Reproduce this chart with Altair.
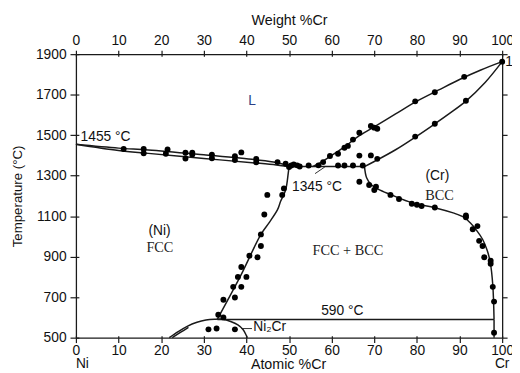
import altair as alt
import pandas as pd

# ---------------- phase boundary lines (Atomic %Cr, Temperature °C) ----------------
LIQ_L_X = [0, 10, 17, 30, 42, 47, 50]
LIQ_L_T = [1455, 1436, 1427, 1403, 1379, 1365, 1347]
SOL_L_X = [0, 10, 17, 30, 42, 47, 50]
SOL_L_T = [1455, 1424, 1410, 1385, 1363, 1353, 1345]
EUT_X = [50, 67.7]
EUT_T = [1345, 1345]
LIQ_R_X = [55.5, 57.7, 60, 63, 66, 69.5, 75, 80, 85, 90, 95, 100]
LIQ_R_T = [1345, 1368, 1400, 1442, 1490, 1535, 1605, 1668, 1722, 1775, 1822, 1863]
SOL_R_X = [67.7, 70, 75, 79.6, 83.8, 87.5, 91.5, 96, 100]
SOL_R_T = [1345, 1370, 1428, 1490, 1550, 1605, 1668, 1760, 1863]
FCC_X = [50, 49.8, 49.2, 48, 47.3, 45.3, 43.4, 38.5, 33.2]
FCC_T = [1345, 1310, 1229, 1172, 1132, 1067, 1010, 800, 592]
BCC_X = [67.7, 68.2, 69.3, 71, 73.8, 79, 84.2, 88.5, 91, 92.5, 94, 95.4, 96.5, 97.2, 97.8, 98.1]
BCC_T = [1345, 1290, 1255, 1232, 1207, 1165, 1142, 1116, 1095, 1067, 1030, 986, 930, 873, 760, 590]
VERT_X = [98.1, 98.1]
VERT_T = [590, 500]
ORD_X = [33.2, 98.1]
ORD_T = [590, 590]
DOME_X = [21.9, 24, 26.1, 28.4, 30.5, 32.5, 34.5, 36.3, 38, 39.2, 40, 40.2]
DOME_T = [500, 530, 556, 576, 587, 591, 591, 580, 563, 540, 510, 500]
DOME_IN_X = [22.6, 24.6, 26.4]
DOME_IN_T = [500, 527, 551]
LEAD1_X = [56.1, 58.4]
LEAD1_T = [1310, 1343]
LEAD2_X = [38.8, 41.3]
LEAD2_T = [545, 545]

# ---------------- experimental points ----------------
PTS_X = [11.2, 15.9, 15.9, 21.5, 21.1, 25.7, 25.7, 27.3, 27.3, 31.9, 31.9, 37.3, 37.3, 38.8,
         42.3, 42.3, 47.3, 49.2, 50, 50.5, 51.1, 51.9, 52.5, 54.6, 56.9, 58, 59.6, 61.5, 63,
         63.8, 65, 66.5, 69.2, 70, 70.7, 61.5, 63, 65, 67.3, 66.5, 69.2, 70.7,
         79.6, 84.2, 91.1, 79.6, 84.2, 91.5, 100,
         48.8, 48.4, 44.9, 44.2, 43.4, 43.4, 42.6, 40.7, 38.8, 40, 38, 38.8, 36.9, 37.3, 34.6,
         33.4, 34.6, 31.1, 33, 37.3,
         66.5, 68.8, 70.4, 70, 73.8, 75.8, 78.8, 80, 81.1, 84.2, 91.5, 91.5, 94.2, 93.1, 94.6,
         95.4, 95.8, 97.3, 97.3, 97.8, 98.1, 98.1]
PTS_T = [1432, 1432, 1411, 1429, 1408, 1413, 1385, 1414, 1405, 1404, 1386, 1396, 1377, 1415,
         1383, 1366, 1367, 1359, 1343, 1350, 1355, 1351, 1345, 1350, 1351, 1367, 1397, 1408, 1438,
         1447, 1478, 1512, 1545, 1537, 1532, 1350, 1350, 1350, 1350, 1399, 1400, 1383,
         1667, 1712, 1788, 1493, 1556, 1670, 1863,
         1237, 1205, 1205, 1108, 1010, 953, 897, 905, 849, 800, 800, 751, 751, 698, 687,
         613, 600, 541, 545, 541,
         1270, 1254, 1245, 1229, 1205, 1185, 1161, 1156, 1150, 1143, 1103, 1095, 1051, 1035, 978,
         953, 897, 880, 865, 751, 678, 524]

# ---------------- annotations ----------------
LBL_LEFT = ["1455 °C", "1345 °C", "Ni₂Cr", "1863 °C", "Ni"]
LBL_LEFT_X = [1.1, 50.7, 41.6, 100.7, 0]
LBL_LEFT_T = [1492, 1245, 553, 1861, 368]
LBL_MID = ["L", "(Ni)", "(Cr)", "590 °C", "Cr"]
LBL_MID_X = [41.3, 19.6, 84.8, 62.5, 100]
LBL_MID_T = [1667, 1026, 1297, 633, 368]
LBL_SERIF = ["FCC", "BCC", "FCC + BCC"]
LBL_SERIF_X = [19.7, 85.3, 63.8]
LBL_SERIF_T = [942, 1197, 929]

TICKS_X = list(range(0, 101, 10))
TICKS_T = list(range(500, 1901, 200))

SANS = "Liberation Sans"
SERIF = "Liberation Serif"
INK = "#1a1a1a"


def seg(name, xs, ts):
    return pd.DataFrame({"x": xs, "T": ts, "seg": name, "i": list(range(len(xs)))})


curves = pd.concat([
    seg("liqL", LIQ_L_X, LIQ_L_T), seg("solL", SOL_L_X, SOL_L_T),
    seg("liqR", LIQ_R_X, LIQ_R_T), seg("solR", SOL_R_X, SOL_R_T),
    seg("fcc", FCC_X, FCC_T), seg("bcc", BCC_X, BCC_T),
    seg("dome", DOME_X, DOME_T), seg("domein", DOME_IN_X, DOME_IN_T),
])
straights = pd.concat([
    seg("eut", EUT_X, EUT_T), seg("vert", VERT_X, VERT_T), seg("ord", ORD_X, ORD_T),
])
leaders = pd.concat([seg("l1", LEAD1_X, LEAD1_T), seg("l2", LEAD2_X, LEAD2_T)])
pts = pd.DataFrame({"x": PTS_X, "T": PTS_T})
tl = pd.DataFrame({"x": LBL_LEFT_X, "T": LBL_LEFT_T, "t": LBL_LEFT})
tm = pd.DataFrame({"x": LBL_MID_X, "T": LBL_MID_T, "t": LBL_MID})
ts = pd.DataFrame({"x": LBL_SERIF_X, "T": LBL_SERIF_T, "t": LBL_SERIF})
dummy = pd.DataFrame({"x": [0, 100], "T": [500, 1900]})

XS = alt.Scale(domain=[0, 100], nice=False, zero=False)
YS = alt.Scale(domain=[500, 1900], nice=False, zero=False)

common_axis = dict(grid=False, domainColor=INK, tickColor=INK, domainWidth=1.3, tickWidth=1.2,
                   labelFont=SANS, labelColor="#111", titleFont=SANS, titleColor="#111",
                   titleFontWeight="normal", labelFlush=False, labelOverlap=False, format="d")

x_bottom = alt.Axis(orient="bottom", values=TICKS_X, title="Atomic %Cr", tickSize=5,
                    labelFontSize=14, labelPadding=1, titleFontSize=14.5,
                    titleX=215.5, titleY=27, titleAlign="center", titleBaseline="middle",
                    **common_axis)
y_left = alt.Axis(orient="left", values=TICKS_T, title="Temperature (°C)", tickSize=6,
                  labelFontSize=14, labelPadding=4, titleFontSize=13.5,
                  titleX=-59, titleY=144, titleAngle=270, titleAlign="center",
                  titleBaseline="middle", **common_axis)

XE = alt.X("x:Q", scale=XS, axis=x_bottom)
YE = alt.Y("T:Q", scale=YS, axis=y_left)

line_curves = alt.Chart(curves).mark_line(color=INK, strokeWidth=1.5, interpolate="catmull-rom").encode(
    x=XE, y=YE, detail="seg:N", order="i:Q")
line_straight = alt.Chart(straights).mark_line(color=INK, strokeWidth=1.5).encode(
    x=XE, y=YE, detail="seg:N", order="i:Q")
line_lead = alt.Chart(leaders).mark_line(color=INK, strokeWidth=0.9).encode(
    x=XE, y=YE, detail="seg:N", order="i:Q")
points = alt.Chart(pts).mark_circle(color="#000", size=36, opacity=1).encode(x=XE, y=YE)
txt_left = alt.Chart(tl).mark_text(font=SANS, fontSize=14, align="left", baseline="middle",
                                   color="#111").encode(x=XE, y=YE, text="t:N")
txt_mid = alt.Chart(tm).mark_text(font=SANS, fontSize=14, align="center", baseline="middle",
                                  color="#111").encode(
    x=XE, y=YE, text="t:N",
    color=alt.condition(alt.datum.t == "L", alt.value("#2d3f86"), alt.value("#111")))
txt_serif = alt.Chart(ts).mark_text(font=SERIF, fontSize=14.5, align="center", baseline="middle",
                                    color="#222").encode(x=XE, y=YE, text="t:N")

main = alt.layer(line_curves, line_straight, line_lead, points, txt_left, txt_mid, txt_serif)

# second frame: top (weight %) axis and right axis
x_top = alt.Axis(orient="top", values=TICKS_X, title="Weight %Cr", tickSize=4,
                 labelFontSize=14, labelPadding=3, titleFontSize=14.5,
                 titleX=216.5, titleY=-34, titleAlign="center", titleBaseline="middle",
                 **common_axis)
y_right = alt.Axis(orient="right", values=TICKS_T, title="", labels=False, tickSize=5,
                   **common_axis)
frame2 = alt.Chart(dummy).mark_point(opacity=0).encode(
    x=alt.X("x:Q", scale=XS, axis=x_top), y=alt.Y("T:Q", scale=YS, axis=y_right))

# inner halves of the crossing ticks
inner_common = dict(grid=False, domain=False, labels=False, title="", tickColor=INK, tickWidth=1.2)
x_bottom_in = alt.Axis(orient="bottom", values=TICKS_X, tickSize=2, offset=-2, **inner_common)
y_left_in = alt.Axis(orient="left", values=TICKS_T, tickSize=3, offset=-3, **inner_common)
frame3 = alt.Chart(dummy).mark_point(opacity=0).encode(
    x=alt.X("x:Q", scale=XS, axis=x_bottom_in), y=alt.Y("T:Q", scale=YS, axis=y_left_in))
x_top_in = alt.Axis(orient="top", values=TICKS_X, tickSize=2, offset=-2, **inner_common)
frame4 = alt.Chart(dummy).mark_point(opacity=0).encode(
    x=alt.X("x:Q", scale=XS, axis=x_top_in), y=alt.Y("T:Q", scale=YS, axis=None))

chart = alt.layer(main, frame2, frame3, frame4).resolve_scale(
    x="independent", y="independent"
).properties(
    width=433, height=288,
    autosize=alt.AutoSizeParams(type="none"),
    padding={"left": 69, "top": 44, "right": 10, "bottom": 33},
    background="white",
).configure_view(stroke=None)

chart.save("out.html", embed_options={"renderer": "svg", "actions": False})
